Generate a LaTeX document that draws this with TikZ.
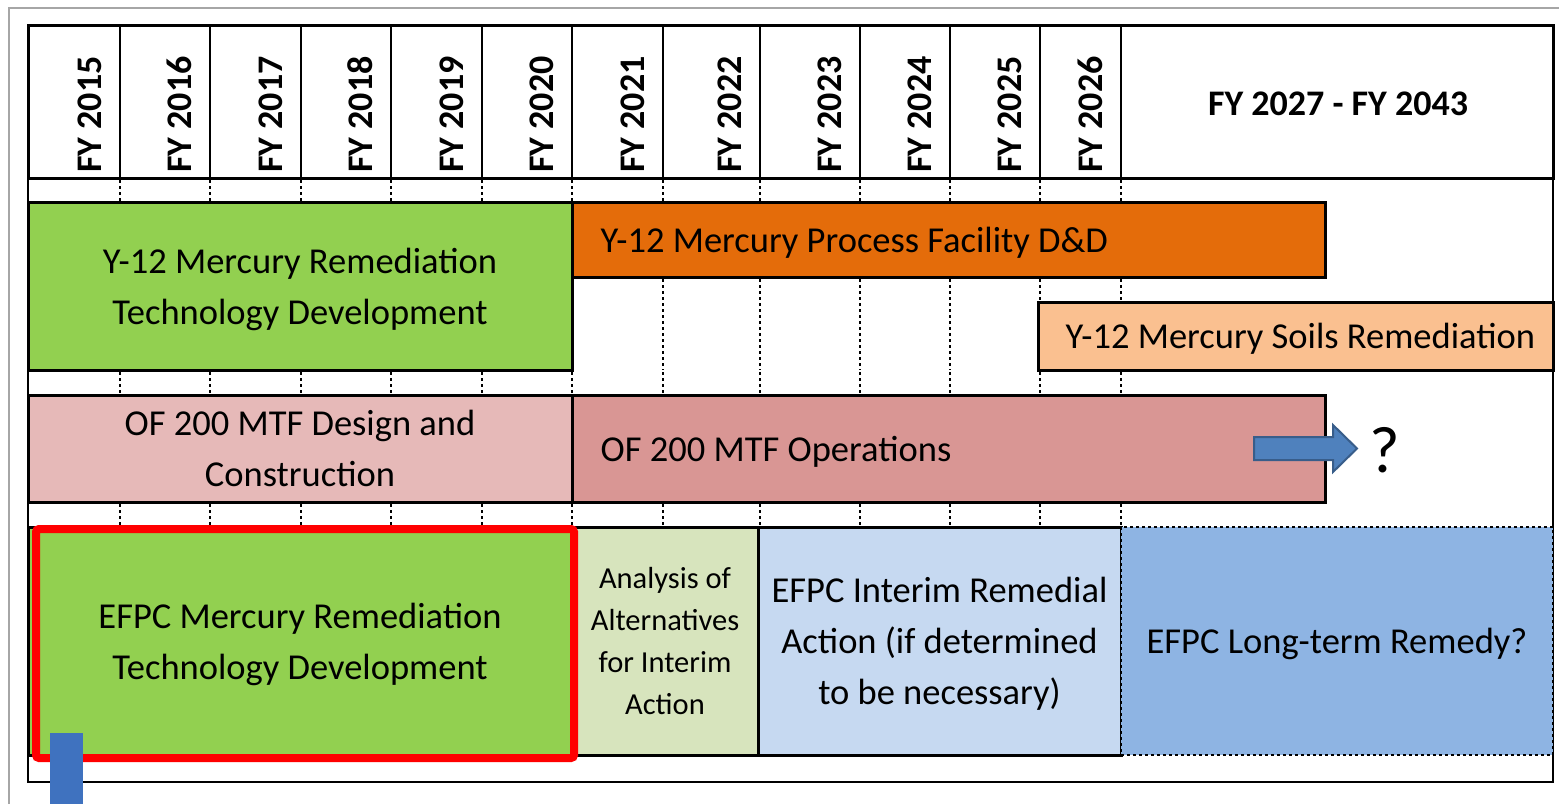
\documentclass[tikz,border=0pt]{standalone}
\usepackage{fontspec}
\setmainfont{Carlito}
\definecolor{ygreen}{HTML}{92D050}
\definecolor{dorange}{HTML}{E46C0A}
\definecolor{lorange}{HTML}{FAC090}
\definecolor{lpink}{HTML}{E6B9B8}
\definecolor{dpink}{HTML}{D99694}
\definecolor{lolive}{HTML}{D7E4BD}
\definecolor{lblue}{HTML}{C6D9F1}
\definecolor{mblue}{HTML}{8EB4E3}
\definecolor{arrowblue}{HTML}{4F81BD}
\definecolor{arrowedge}{HTML}{385D8A}
\definecolor{barblue}{HTML}{3F72BF}
\definecolor{framegray}{HTML}{A6A6A6}
\begin{document}
\begin{tikzpicture}[x=1pt,y=-1pt,
  bodyfont/.style={font=\fontsize{36.5}{51}\selectfont},
  bar/.style={draw=black, line width=3pt, inner sep=0pt, align=center, text depth=0pt, bodyfont},
  txt/.style={inner sep=0pt, anchor=west, text depth=0pt, bodyfont},
  hdr/.style={inner sep=0pt, rotate=90, anchor=base west, font=\fontsize{36}{40}\selectfont\bfseries},
  gridline/.style={black, line width=1.5pt},
  dotline/.style={black, line width=1.5pt, dash pattern=on 3pt off 3pt},
]
\useasboundingbox (0,0) rectangle (1559,804);
\fill[white] (0,0) rectangle (1559,804);
% screenshot frame
\draw[framegray, line width=2pt] (9,804) -- (9,8) -- (1559,8);
% table frame
\draw[gridline] (28,178) -- (28,782) -- (1553,782) -- (1553,178);
% header
\node[draw=black, line width=3pt, fill=white, minimum width=1525pt, minimum height=153pt, inner sep=0pt] (header) at (790.5,101.5) {};
\foreach \xx in {120,210,301,391,482,572,663,760,860,950,1040,1121}
  \draw[gridline] (\xx,25) -- (\xx,178);
\foreach \xx/\yy in {120/2015,210/2016,301/2017,391/2018,482/2019,572/2020,663/2021,760/2022,860/2023,950/2024,1040/2025,1121/2026}
  \node[hdr] (fy\yy) at (\xx-19,173) {FY \yy};
\node[inner sep=0pt, font=\fontsize{36}{40}\selectfont\bfseries] (fyrange) at (1338,104) {FY 2027 - FY 2043};
% dotted guides
\foreach \xx in {120,210,301,391,482,572,663,760,860,950,1040,1121} {
  \draw[dotline] (\xx,180) -- (\xx,202);
  \draw[dotline] (\xx,372) -- (\xx,395);
  \draw[dotline] (\xx,504) -- (\xx,527);
}
\foreach \xx in {663,760,860,950}
  \draw[dotline] (\xx,279) -- (\xx,370);
\foreach \xx in {1040,1121}
  \draw[dotline] (\xx,279) -- (\xx,302);
% row 1
\node[bar, fill=ygreen, minimum width=544pt, minimum height=168pt] (y12tech) at (300,286) {Y-12 Mercury Remediation\\Technology Development};
\node[bar, fill=dorange, minimum width=753pt, minimum height=75pt] (ddbox) at (948.5,239.5) {};
\node[txt] (ddtext) at ([xshift=30pt]ddbox.west) {Y-12 Mercury Process Facility D\&D};
\node[bar, fill=lorange, minimum width=515pt, minimum height=68pt] (soilbox) at (1295.5,336) {};
\node[txt] (soiltext) at ([xshift=29pt]soilbox.west) {Y-12 Mercury Soils Remediation};
% row 2
\node[bar, fill=lpink, minimum width=544pt, minimum height=107pt] (mtfdesign) at (300,448.5) {OF 200 MTF Design and\\Construction};
\node[bar, fill=dpink, minimum width=753pt, minimum height=107pt] (mtfops) at (948.5,448.5) {};
\node[txt] (mtfopstext) at ([xshift=30pt]mtfops.west) {OF 200 MTF Operations};
% row 3
\node[bar, fill=ygreen, minimum width=544pt, minimum height=228pt] (efpctech) at (300,641) {EFPC Mercury Remediation\\Technology Development};
\node[bar, fill=lolive, minimum width=186pt, minimum height=228pt, font=\fontsize{30.5}{42}\selectfont] (analysis) at (665,641) {Analysis of\\Alternatives\\for Interim\\Action};
\node[bar, fill=lblue, minimum width=363pt, minimum height=228pt] (interim) at (939.5,641) {EFPC Interim Remedial\\Action (if determined\\to be necessary)};
\node[bar, fill=mblue, draw=black, line width=1.5pt, dash pattern=on 3pt off 3pt, minimum width=432pt, minimum height=228pt] (longterm) at (1337,641) {EFPC Long-term Remedy?};
% red highlight
\draw[red, line width=8pt, rounded corners=3pt] (36,529) rectangle (574,758);
% block arrow and question mark
\node[inner sep=0pt, anchor=base, font=\fontsize{66}{70}\selectfont] (qmark) at (1385,472) {?};
\draw[arrowedge, fill=arrowblue, line width=2pt, line join=miter]
  (1254,437) -- (1333,437) -- (1333,425) -- (1357,448.5) -- (1333,472) -- (1333,460) -- (1254,460) -- cycle;
% blue bar at bottom
\fill[barblue] (50,733) rectangle (83,804);
\end{tikzpicture}
\end{document}
